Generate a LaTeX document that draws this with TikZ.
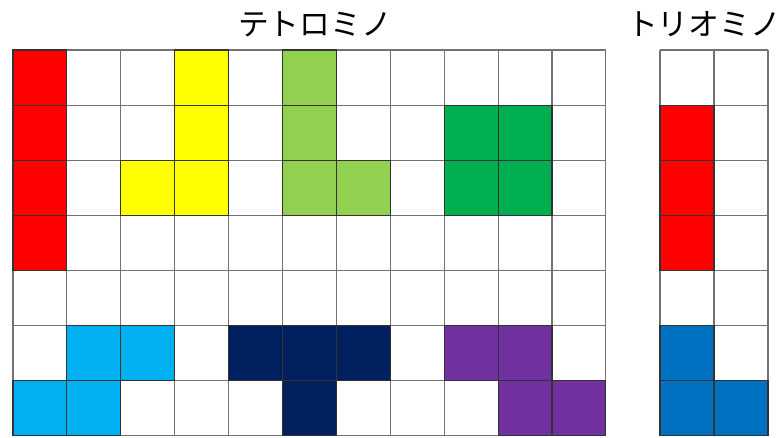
\documentclass[tikz,border=0pt]{standalone}
\usepackage{fontspec}
\newfontfamily\jpfont{Noto Sans CJK JP}
\usetikzlibrary{positioning}
\definecolor{pcred}{HTML}{FF0000}
\definecolor{pcyellow}{HTML}{FFFF00}
\definecolor{pclime}{HTML}{92D050}
\definecolor{pcgreen}{HTML}{00B050}
\definecolor{pccyan}{HTML}{00B0F0}
\definecolor{pcnavy}{HTML}{002060}
\definecolor{pcpurple}{HTML}{7030A0}
\definecolor{pcblue}{HTML}{0070C0}
\tikzset{
	gridline/.style={draw=black!55, line width=0.6pt}
}
\tikzset{
	piecebox/.style={draw=black!80, line width=0.6pt}
}
\tikzset{
	titletext/.style={font=\fontsize{17.5}{20}\selectfont\jpfont}
}

\begin{document}
\begin{tikzpicture}[x=0.02cm, y=-0.02cm]
      \useasboundingbox (0,0) rectangle (781,438);
      \node[titletext] (tetro) at (315,24) {テトロミノ};
      \node[titletext] (trio) at (704,24) {トリオミノ};
      % left board, 11 x 7
      \foreach \i in {0,...,11}
        \draw[gridline] ({13+53.9*\i},50) -- ++(0,385.7);
      \foreach \j in {0,...,7}
        \draw[gridline] (13,{50+55.1*\j}) -- ++(592.9,0);
      \foreach \c/\r/\col in {0/0/pcred, 0/1/pcred, 0/2/pcred, 0/3/pcred,
          3/0/pcyellow, 3/1/pcyellow, 3/2/pcyellow, 2/2/pcyellow,
          5/0/pclime, 5/1/pclime, 5/2/pclime, 6/2/pclime,
          8/1/pcgreen, 9/1/pcgreen, 8/2/pcgreen, 9/2/pcgreen,
          1/5/pccyan, 2/5/pccyan, 0/6/pccyan, 1/6/pccyan,
          4/5/pcnavy, 5/5/pcnavy, 6/5/pcnavy, 5/6/pcnavy,
          8/5/pcpurple, 9/5/pcpurple, 9/6/pcpurple, 10/6/pcpurple}
        \draw[piecebox, fill=\col] ({13+53.9*\c},{50+55.1*\r}) rectangle ++(53.9,55.1);
      % right board, 2 x 7
      \foreach \i in {0,...,2}
        \draw[gridline] ({660+54*\i},50) -- ++(0,385.7);
      \foreach \j in {0,...,7}
        \draw[gridline] (660,{50+55.1*\j}) -- ++(108,0);
      \foreach \c/\r/\col in {0/1/pcred, 0/2/pcred, 0/3/pcred,
          0/5/pcblue, 0/6/pcblue, 1/6/pcblue}
        \draw[piecebox, fill=\col] ({660+54*\c},{50+55.1*\r}) rectangle ++(54,55.1);
    \end{tikzpicture}
\end{document}
